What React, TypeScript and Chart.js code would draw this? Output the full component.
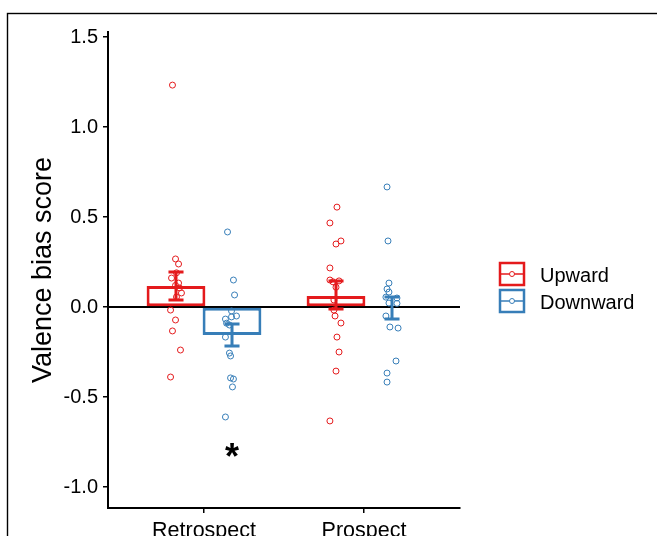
import React, { useEffect, useRef } from 'react';
import { Chart, registerables } from 'chart.js';

Chart.register(...registerables);

// ---- data ----
const categories = ['Retrospect', 'Prospect'];
const groups = ['Upward', 'Downward'];
const groupColors = ['#E41A1C', '#377EB8'];
const yTickValues = [-1.0, -0.5, 0.0, 0.5, 1.0, 1.5];
const yTitle = 'Valence bias score';

// group means (bars)
const upwardMeans = [0.117, 0.061];
const downwardMeans = [-0.156, -0.004];
// error bar bounds (mean ± SE)
const upwardErrLow = [0.039, -0.011];
const upwardErrHigh = [0.194, 0.144];
const downwardErrLow = [-0.217, -0.067];
const downwardErrHigh = [-0.094, 0.056];

// individual scores (points) and their horizontal jitter (category units)
const retroUpward = [1.233, 0.267, 0.239, 0.19, 0.161, 0.133, 0.12, 0.106, 0.078, 0.056, -0.017, -0.072, -0.133, -0.239, -0.389];
const retroUpwardJitter = [-0.022, -0.003, 0.016, 0.003, -0.028, 0.016, -0.003, 0.022, 0.034, 0.003, -0.034, -0.003, -0.022, 0.028, -0.034];
const retroDownward = [0.417, 0.15, 0.067, -0.022, -0.05, -0.055, -0.067, -0.09, -0.1, -0.167, -0.256, -0.272, -0.394, -0.4, -0.444, -0.611];
const retroDownwardJitter = [-0.028, 0.009, 0.016, -0.003, 0.028, -0.003, -0.041, -0.034, -0.016, -0.041, -0.016, -0.009, -0.009, 0.009, 0.003, -0.041];
const prospUpward = [0.555, 0.467, 0.367, 0.35, 0.217, 0.15, 0.145, 0.14, 0.11, 0.039, -0.017, -0.05, -0.089, -0.167, -0.25, -0.356, -0.633];
const prospUpwardJitter = [0.006, -0.038, 0.031, 0, -0.038, -0.038, 0.019, -0.019, 0, -0.013, -0.013, -0.006, 0.031, 0.006, 0.019, 0, -0.038];
const prospDownward = [0.667, 0.367, 0.133, 0.1, 0.083, 0.055, 0.05, 0.022, 0.02, -0.05, -0.111, -0.117, -0.3, -0.367, -0.417];
const prospDownwardJitter = [-0.031, -0.025, -0.019, -0.031, -0.019, -0.038, 0.031, -0.019, 0.031, -0.038, -0.013, 0.038, 0.025, -0.031, -0.031];

// significance marker
const starLabel = '*';
const starCategory = 0;
const starGroup = 1;
const starValue = -0.806;

const DODGE = 0.175;
const CAP_HALF = 0.047;
const FONT = '"Liberation Sans", Arial, Helvetica, sans-serif';

function groupX(catIndex: number, groupIndex: number) {
  return catIndex + 1 + (groupIndex === 0 ? -DODGE : DODGE);
}

function pointsData(values: number[], jitter: number[], cat: number, grp: number) {
  return values.map((v, i) => ({ x: groupX(cat, grp) + jitter[i], y: v }));
}

const decorPlugin = {
  id: 'decor',
  beforeDatasetsDraw(chart: any) {
    const { ctx, chartArea, scales } = chart;
    const y0 = scales.y.getPixelForValue(0);
    ctx.save();
    ctx.strokeStyle = '#000';
    ctx.lineWidth = 2;
    ctx.beginPath();
    ctx.moveTo(chartArea.left, y0);
    ctx.lineTo(chartArea.right, y0);
    ctx.stroke();
    ctx.restore();
  },
  afterDatasetsDraw(chart: any) {
    const { ctx, chartArea, scales } = chart;
    const xs = scales.x;
    const ys = scales.y;
    const lows = [upwardErrLow, downwardErrLow];
    const highs = [upwardErrHigh, downwardErrHigh];
    ctx.save();
    ctx.lineWidth = 3;
    for (let g = 0; g < groups.length; g++) {
      ctx.strokeStyle = groupColors[g];
      for (let c = 0; c < categories.length; c++) {
        const cx = groupX(c, g);
        const px = xs.getPixelForValue(cx);
        const pl = xs.getPixelForValue(cx - CAP_HALF);
        const pr = xs.getPixelForValue(cx + CAP_HALF);
        const lo = ys.getPixelForValue(lows[g][c]);
        const hi = ys.getPixelForValue(highs[g][c]);
        ctx.beginPath();
        ctx.moveTo(px, lo);
        ctx.lineTo(px, hi);
        ctx.moveTo(pl, lo);
        ctx.lineTo(pr, lo);
        ctx.moveTo(pl, hi);
        ctx.lineTo(pr, hi);
        ctx.stroke();
      }
    }
    // significance star
    ctx.fillStyle = '#000';
    ctx.font = 'bold 36px ' + FONT;
    ctx.textAlign = 'center';
    ctx.textBaseline = 'alphabetic';
    const sx = xs.getPixelForValue(groupX(starCategory, starGroup));
    const sy = ys.getPixelForValue(starValue);
    ctx.fillText(starLabel, sx, sy + 17);

    // legend
    const lx = chartArea.right + 40;
    const ly = 263;
    const kw = 24;
    const kh = 22;
    const gap = 27;
    for (let g = 0; g < groups.length; g++) {
      const top = ly + g * gap;
      ctx.strokeStyle = groupColors[g];
      ctx.lineWidth = 2.5;
      ctx.strokeRect(lx, top, kw, kh);
      ctx.lineWidth = 1.5;
      ctx.beginPath();
      ctx.moveTo(lx, top + kh / 2);
      ctx.lineTo(lx + kw, top + kh / 2);
      ctx.stroke();
      ctx.fillStyle = '#fff';
      ctx.lineWidth = 1;
      ctx.beginPath();
      ctx.arc(lx + kw / 2, top + kh / 2, 2.5, 0, Math.PI * 2);
      ctx.fill();
      ctx.stroke();
      ctx.fillStyle = '#000';
      ctx.font = '20px ' + FONT;
      ctx.textAlign = 'left';
      ctx.textBaseline = 'middle';
      ctx.fillText(groups[g], lx + 40, top + kh / 2 + 2);
    }
    ctx.restore();
  },
  afterDraw(chart: any) {
    const { ctx } = chart;
    ctx.save();
    ctx.strokeStyle = '#000';
    ctx.lineWidth = 1.4;
    ctx.strokeRect(7.5, 13.5, 900, 900);
    ctx.restore();
  },
};

export default function App() {
  const canvasRef = useRef<HTMLCanvasElement | null>(null);

  useEffect(() => {
    const canvas = canvasRef.current;
    if (!canvas) return;
    const datasets: any[] = [
      {
        type: 'bar',
        label: groups[0],
        data: upwardMeans.map((v, c) => ({ x: groupX(c, 0), y: v })),
        backgroundColor: '#ffffff',
        borderColor: groupColors[0],
        borderWidth: 3,
        borderSkipped: false,
        grouped: false,
        barPercentage: 1.05,
        categoryPercentage: 1,
        order: 5,
      },
      {
        type: 'bar',
        label: groups[1],
        data: downwardMeans.map((v, c) => ({ x: groupX(c, 1), y: v })),
        backgroundColor: '#ffffff',
        borderColor: groupColors[1],
        borderWidth: 3,
        borderSkipped: false,
        grouped: false,
        barPercentage: 1.05,
        categoryPercentage: 1,
        order: 4,
      },
    ];
    const pointSets = [
      { data: pointsData(retroUpward, retroUpwardJitter, 0, 0), g: 0 },
      { data: pointsData(prospUpward, prospUpwardJitter, 1, 0), g: 0 },
      { data: pointsData(retroDownward, retroDownwardJitter, 0, 1), g: 1 },
      { data: pointsData(prospDownward, prospDownwardJitter, 1, 1), g: 1 },
    ];
    pointSets.forEach((p, i) => {
      datasets.push({
        type: 'scatter',
        label: groups[p.g] + ' points ' + i,
        data: p.data,
        pointRadius: 3,
        pointBorderWidth: 1,
        pointBackgroundColor: 'rgba(255,255,255,0)',
        pointBorderColor: groupColors[p.g],
        showLine: false,
        order: 1,
        clip: false,
      });
    });

    const chart = new Chart(canvas, {
      type: 'bar',
      data: { datasets },
      plugins: [decorPlugin],
      options: {
        animation: false,
        responsive: false,
        devicePixelRatio: 1,
        layout: { padding: { top: 32, right: 197, bottom: 0, left: 0 } },
        plugins: { legend: { display: false }, tooltip: { enabled: false } },
        scales: {
          x: {
            type: 'linear',
            min: 0.4,
            max: 2.6,
            offset: false,
            grid: { display: true, drawOnChartArea: false, drawTicks: true, tickLength: 5, color: '#000', lineWidth: 1.5, offset: false },
            border: { display: true, color: '#000', width: 2 },
            afterBuildTicks: (scale: any) => {
              scale.ticks = categories.map((_, i) => ({ value: i + 1 }));
            },
            afterFit: (scale: any) => {
              scale.height = 28;
            },
            ticks: {
              autoSkip: false,
              maxRotation: 0,
              padding: 5,
              color: '#000',
              font: { family: FONT, size: 21.5 },
              callback: (v: any) => categories[Math.round(Number(v)) - 1] ?? '',
            },
          },
          y: {
            type: 'linear',
            min: -1.1167,
            max: 1.528,
            grid: { display: true, drawOnChartArea: false, drawTicks: true, tickLength: 5, color: '#000', lineWidth: 1.5 },
            border: { display: true, color: '#000', width: 2 },
            afterBuildTicks: (scale: any) => {
              scale.ticks = yTickValues.map((v) => ({ value: v }));
            },
            afterFit: (scale: any) => {
              scale.width = 108;
            },
            ticks: {
              padding: 5,
              color: '#000',
              font: { family: FONT, size: 20 },
              callback: (v: any) => Number(v).toFixed(1),
            },
            title: {
              display: true,
              text: yTitle,
              color: '#000',
              font: { family: FONT, size: 27 },
              padding: { top: 27, bottom: 0 },
            },
          },
        },
      } as any,
    });
    return () => chart.destroy();
  }, []);

  return (
    <div style={{ position: 'fixed', left: 0, top: 0, width: 657, height: 536, overflow: 'hidden', background: '#fff' }}>
      <canvas ref={canvasRef} width={657} height={536} style={{ display: 'block', width: 657, height: 536 }} />
    </div>
  );
}
